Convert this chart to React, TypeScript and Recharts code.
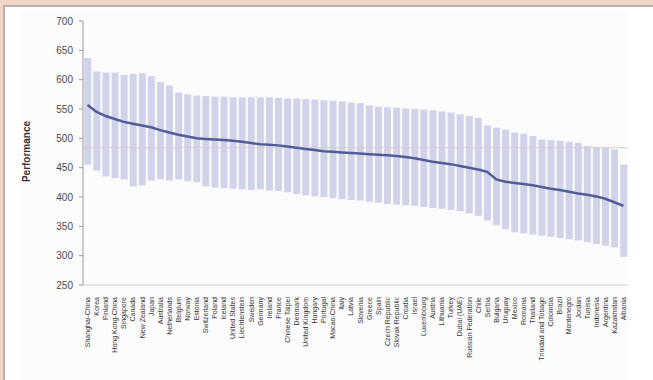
import { ComposedChart, Bar, Line, XAxis, YAxis, ReferenceLine } from 'recharts';

const countries = [
  'Shanghai-China', 'Korea', 'Finland', 'Hong Kong-China', 'Singapore', 'Canada', 'New Zealand', 'Japan',
  'Australia', 'Netherlands', 'Belgium', 'Norway', 'Estonia', 'Switzerland', 'Poland', 'Iceland',
  'United States', 'Liechtenstein', 'Sweden', 'Germany', 'Ireland', 'France', 'Chinese Taipei', 'Denmark',
  'United Kingdom', 'Hungary', 'Portugal', 'Macao-China', 'Italy', 'Latvia', 'Slovenia', 'Greece',
  'Spain', 'Czech Republic', 'Slovak Republic', 'Croatia', 'Israel', 'Luxembourg', 'Austria', 'Lithuania',
  'Turkey', 'Dubai (UAE)', 'Russian Federation', 'Chile', 'Serbia', 'Bulgaria', 'Uruguay', 'Mexico',
  'Romania', 'Thailand', 'Trinidad and Tobago', 'Colombia', 'Brazil', 'Montenegro', 'Jordan', 'Tunisia',
  'Indonesia', 'Argentina', 'Kazakhstan', 'Albania',
];

const meanScore = [
  557, 545, 538, 533, 528, 525, 522, 519, 514, 510, 506, 503, 500, 499, 498, 497,
  496, 494, 492, 490, 489, 488, 486, 484, 482, 480, 478, 477, 476, 475, 474, 473,
  472, 471, 470, 468, 466, 463, 460, 458, 456, 453, 450, 447, 443, 430, 426, 424,
  422, 420, 417, 414, 412, 409, 406, 404, 401, 397, 391, 385,
];

const upperScore = [
  637, 614, 612, 612, 608, 610, 611, 606, 596, 590, 578, 575, 573, 572, 571, 571,
  570, 570, 570, 570, 570, 569, 568, 568, 567, 566, 565, 564, 563, 561, 560, 556,
  554, 553, 552, 551, 550, 549, 548, 546, 544, 541, 538, 535, 522, 518, 515, 510,
  508, 504, 498, 497, 496, 494, 492, 487, 485, 484, 481, 455,
];

const lowerScore = [
  455, 445, 435, 432, 430, 418, 420, 428, 430, 428, 430, 427, 425, 418, 416, 415,
  414, 413, 412, 413, 411, 410, 408, 405, 403, 401, 400, 398, 396, 395, 394, 392,
  390, 388, 387, 386, 385, 383, 381, 380, 378, 376, 372, 368, 360, 352, 345, 340,
  338, 336, 334, 332, 330, 328, 326, 323, 320, 317, 314, 298,
];

const yTicks = [250, 300, 350, 400, 450, 500, 550, 600, 650, 700];

const data = countries.map((c, i) => ({
  country: c,
  range: [lowerScore[i], upperScore[i]],
  mean: meanScore[i],
}));

const font = 'Liberation Sans, Arial, sans-serif';

function CountryTick(props: any) {
  const { x, y, payload } = props;
  return (
    <text x={x} y={y + 4} transform={`rotate(-90 ${x} ${y + 4})`} textAnchor="end" dominantBaseline="central"
      fontSize={7} fill="#333" fontFamily={font}>
      {payload.value}
    </text>
  );
}

export default function App() {
  return (
    <div style={frame}>
      <style>{'body{margin:0}'}</style>
      <div style={inner} />
      <div style={plotBg} />
      <div style={{ position: 'absolute', left: 0, top: 0 }}>
        <ComposedChart width={653} height={380} data={data} barCategoryGap="14%"
          margin={{ top: 21, right: 25, bottom: 0, left: 0 }}>
          <XAxis dataKey="country" interval={0} height={95} tick={<CountryTick />}
            stroke="#cfcfcf" tickLine={false} />
          <YAxis domain={[250, 700]} ticks={yTicks} width={83} stroke="#9a9a9a" tickSize={4} tickMargin={6}
            tick={{ fontSize: 10, fill: '#4a4a4a', fontFamily: font }}
            label={<text x={33} y={160} transform="rotate(-90 33 160)" textAnchor="middle" dominantBaseline="central"
              fontSize={10} fontWeight="bold" fill="#333" fontFamily={font}>Performance</text>} />
          <Bar dataKey="range" fill="#d0d3ea" isAnimationActive={false} />
          <ReferenceLine y={484} stroke="#d9c9d3" strokeWidth={1} />
          <Line type="linear" dataKey="mean" stroke="#525d98" strokeWidth={2.5} dot={false} isAnimationActive={false} />
        </ComposedChart>
      </div>
    </div>
  );
}

const frame: React.CSSProperties = { position: 'relative', width: 653, height: 380, background: '#f2d6c6', overflow: 'hidden' };
const inner: React.CSSProperties = { position: 'absolute', left: 3, top: 5, right: 0, bottom: 0, background: '#ffffff', borderTop: '2px solid #b8b2ae', borderLeft: '2px solid #b8b2ae' };
const plotBg: React.CSSProperties = { position: 'absolute', left: 20, top: 11, width: 608, height: 369, background: '#fcfcfc' };
